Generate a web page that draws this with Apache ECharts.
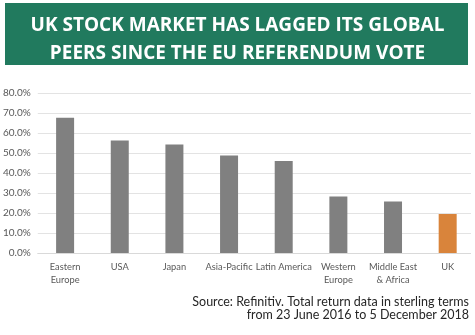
<!DOCTYPE html>
<html><head><meta charset="utf-8">
<script src="https://cdn.jsdelivr.net/npm/echarts@6/dist/echarts.min.js"></script>
<style>html,body{margin:0;padding:0;background:#fff}#c{width:475px;height:335px}</style>
</head><body><div id="c"></div>
<script>
const categories = ['Eastern\nEurope','USA','Japan','Asia-Pacific','Latin America','Western\nEurope','Middle East\n& Africa','UK'];
const values = [67.6, 56.3, 54.2, 48.8, 46.0, 28.2, 25.8, 19.5];
const yTicks = [0,10,20,30,40,50,60,70,80];
const highlight = 'UK';

const chart = echarts.init(document.getElementById('c'), null, {renderer:'canvas'});
chart.setOption({
  animation:false,
  backgroundColor:'#fff',
  graphic:[
    {type:'rect', left:5, top:3, shape:{width:463,height:62}, style:{fill:'#217a5e'}, z:10},
    {type:'text', left:'center', top:12, style:{text:'UK STOCK MARKET HAS LAGGED ITS GLOBAL\nPEERS SINCE THE EU REFERENDUM VOTE', fill:'#fff', font:'bold 19px "Open Sans"', textAlign:'center', lineHeight:27.5}, z:11},
    {type:'rect', left:471, top:85, shape:{width:10,height:175}, style:{fill:'#fff'}, z:5},
    {type:'text', right:6, top:295, style:{text:'Source: Refinitiv. Total return data in sterling terms\nfrom 23 June 2016 to 5 December 2018', fill:'#262626', font:'12.5px Lato', textAlign:'right', lineHeight:13}, z:11}
  ],
  grid:{left:36, top:93, width:450, height:160, containLabel:false},
  xAxis:{type:'category', data:categories,
    axisLine:{lineStyle:{color:'#d9d9d9'}}, axisTick:{show:false},
    axisLabel:{color:'#595959', fontSize:9.3, fontFamily:'Lato', margin:8, lineHeight:12.5, interval:0}},
  yAxis:{type:'value', min:0, max:80, interval:10,
    axisLabel:{color:'#595959', fontSize:10, fontFamily:'Lato', margin:7, formatter:v=>v.toFixed(1)+'%'},
    splitLine:{lineStyle:{color:'#e3e3e3'}}, axisLine:{show:false}, axisTick:{show:false}},
  series:[{type:'bar', barWidth:18,
    data: values.map((v,i)=>({value:v, itemStyle:{color: categories[i]===highlight ? '#d9843b' : '#808080'}}))}]
});
</script></body></html>
